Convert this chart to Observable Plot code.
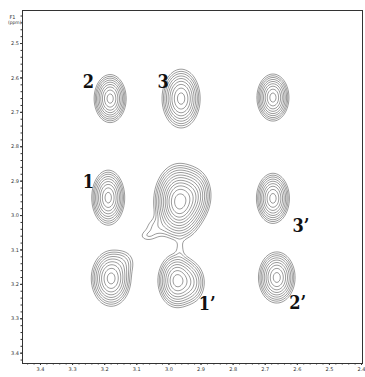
<!DOCTYPE html>
<html><head><meta charset="utf-8">
<script src="https://cdn.jsdelivr.net/npm/d3@7"></script>
<script src="https://cdn.jsdelivr.net/npm/@observablehq/plot@0.6"></script>
<style>body{margin:0;background:#fff}</style>
</head><body><div id="chart"></div>
<script>
// Peak components (ppm): F2 (x), F1 (y), widths and relative intensities
const peakX = [3.183, 2.962, 2.676, 3.189, 2.968, 2.676, 3.180, 2.975, 2.664, 2.920, 3.040, 2.965, 3.140, 2.930, 3.068];
const peakY = [2.660, 2.660, 2.657, 2.948, 2.960, 2.950, 3.183, 3.189, 3.180, 2.940, 3.035, 3.095, 3.135, 3.195, 3.060];
const sigX  = [0.021, 0.025, 0.021, 0.0216, 0.030, 0.0216, 0.026, 0.025, 0.024, 0.024, 0.026, 0.010, 0.022, 0.022, 0.020];
const sigY  = [0.0294, 0.036, 0.0288, 0.0337, 0.042, 0.0307, 0.034, 0.033, 0.0313, 0.034, 0.020, 0.018, 0.022, 0.030, 0.012];
const amp   = [1, 1, 1, 1, 2, 1, 1, 1, 1, 0.5, 0.09, 0.05, 0.1, 0.3, 0.065];
const levels = [0.06, 0.09, 0.13, 0.19, 0.27, 0.38, 0.52, 0.7, 0.9, 1.15, 1.45, 1.8];

const xTicks = [3.4, 3.3, 3.2, 3.1, 3.0, 2.9, 2.8, 2.7, 2.6, 2.5, 2.4];
const yTicks = [2.5, 2.6, 2.7, 2.8, 2.9, 3.0, 3.1, 3.2, 3.3, 3.4];
const xMinor = d3.range(2.40, 3.46, 0.02);
const yMinor = d3.range(2.42, 3.43, 0.02);

const labelText = ["2", "3", "1", "3’", "1’", "2’"];
const labelX = [3.251, 3.018, 3.251, 2.589, 2.881, 2.599];
const labelY = [2.613, 2.613, 2.904, 3.032, 3.259, 3.256];

const field = (x, y) => {
  let s = 0;
  for (let i = 0; i < peakX.length; i++) {
    const dx = (x - peakX[i]) / sigX[i], dy = (y - peakY[i]) / sigY[i];
    s += amp[i] * Math.exp(-0.5 * (dx * dx + dy * dy));
  }
  return s;
};

const X0 = 3.456, X1 = 2.397, Y0 = 2.404, Y1 = 3.430;

const chart = Plot.plot({
  width: 365, height: 377,
  marginLeft: 22, marginRight: 3, marginTop: 10, marginBottom: 14,
  x: {domain: [X0, X1], label: null},
  y: {domain: [Y0, Y1], reverse: true, label: null},
  style: {fontSize: "5px", fontFamily: "DejaVu Sans", color: "#333", background: "white"},
  marks: [
    Plot.contour({x1: X0, x2: X1, y1: Y0, y2: Y1, value: field, thresholds: levels,
      stroke: "#4a4a4a", strokeWidth: 0.55, fill: "none", pixelSize: 1}),
    Plot.frame({stroke: "#333", strokeWidth: 1}),
    Plot.axisX({ticks: xTicks, tickFormat: d => d.toFixed(1), tickSize: 2, tickPadding: 1.5, fontSize: 5}),
    Plot.axisX({ticks: xMinor, tickFormat: () => "", tickSize: 1.5}),
    Plot.axisY({ticks: yTicks, tickFormat: d => d.toFixed(1), tickSize: 2, tickPadding: 1.5, fontSize: 5}),
    Plot.axisY({ticks: yMinor, tickFormat: () => "", tickSize: 1.5}),
    Plot.text(["F1"], {frameAnchor: "top-left", dx: -7, dy: 5, textAnchor: "end", fontSize: 5}),
    Plot.text(["(ppm)"], {frameAnchor: "top-left", dx: -1, dy: 10, textAnchor: "end", fontSize: 4.5}),
    Plot.text(labelText, {x: (d, i) => labelX[i], y: (d, i) => labelY[i], text: d => d,
      fontSize: 18, fontWeight: "bold", fill: "#111",
      fontFamily: "'DejaVu Serif Condensed', 'DejaVu Serif', serif"})
  ]
});
document.getElementById("chart").appendChild(chart);
</script>
</body></html>
